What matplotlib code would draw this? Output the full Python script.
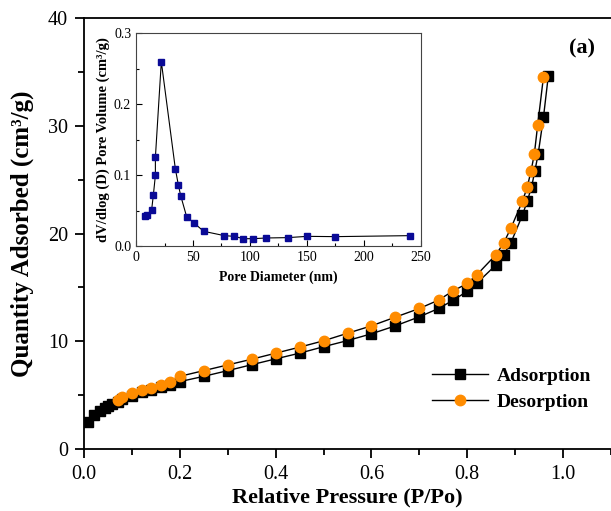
import matplotlib
matplotlib.use('Agg')
import matplotlib.pyplot as plt
from matplotlib.ticker import MultipleLocator

plt.rcParams['font.family'] = ['Liberation Serif', 'DejaVu Serif']

# N2 isotherm, relative pressure vs quantity adsorbed (cm3/g)
p_ads = [0.008, 0.021, 0.033, 0.044, 0.051, 0.058, 0.07, 0.08, 0.10, 0.12,
         0.14, 0.16, 0.18, 0.20, 0.25, 0.30, 0.35, 0.40, 0.45, 0.50,
         0.55, 0.60, 0.65, 0.70, 0.74, 0.77, 0.80, 0.82, 0.86, 0.876,
         0.891, 0.915, 0.925, 0.934, 0.941, 0.948, 0.959, 0.969]
q_ads = [2.54, 3.16, 3.56, 3.84, 4.03, 4.19, 4.40, 4.62, 4.95, 5.25,
         5.48, 5.72, 5.92, 6.26, 6.75, 7.28, 7.83, 8.37, 8.90, 9.50,
         10.07, 10.70, 11.44, 12.28, 13.05, 13.80, 14.65, 15.40, 17.10, 18.05,
         19.15, 21.70, 23.00, 24.30, 25.80, 27.40, 30.80, 34.60]

p_des = [0.07, 0.08, 0.10, 0.12, 0.14, 0.16, 0.18, 0.20, 0.25, 0.30,
         0.35, 0.40, 0.45, 0.50, 0.55, 0.60, 0.65, 0.70, 0.74, 0.77,
         0.80, 0.82, 0.86, 0.876, 0.891, 0.915, 0.925, 0.933, 0.94, 0.947,
         0.959]
q_des = [4.56, 4.87, 5.18, 5.49, 5.70, 5.95, 6.20, 6.75, 7.28, 7.81,
         8.34, 8.90, 9.46, 10.05, 10.75, 11.44, 12.25, 13.05, 13.83, 14.67,
         15.38, 16.18, 18.05, 19.15, 20.50, 23.00, 24.30, 25.80, 27.40, 30.10,
         34.55]

# BJH pore size distribution
pore_d = [7.9, 9.9, 13.7, 15.2, 17.0, 17.0, 22.2, 34.5, 37.1, 39.2,
          44.4, 51.2, 59.4, 77.5, 86.3, 94.2, 102.9, 114.0, 133.0, 150.3,
          174.6, 240.6]
pore_v = [0.042, 0.044, 0.051, 0.0715, 0.0997, 0.125, 0.260, 0.109, 0.0865, 0.071,
          0.0414, 0.032, 0.0207, 0.0146, 0.0136, 0.0103, 0.0103, 0.0113, 0.0118, 0.0136,
          0.0132, 0.0146]

fig = plt.figure(figsize=(6.11, 5.11), dpi=100)
ax = fig.add_axes([0.1375, 0.1213, 0.8625, 0.8429])

ax.plot(p_ads, q_ads, color='black', lw=1, marker='s', ms=6.5,
        mfc='black', mec='black', label='Adsorption')
ax.plot(p_des, q_des, color='black', lw=1, marker='o', ms=7.5,
        mfc='#ff8c00', mec='#ff8c00', label='Desorption')

ax.set_xlim(0, 1.1)
ax.set_ylim(0, 40)
ax.xaxis.set_major_locator(MultipleLocator(0.2))
ax.xaxis.set_minor_locator(MultipleLocator(0.1))
ax.yaxis.set_major_locator(MultipleLocator(10))
ax.yaxis.set_minor_locator(MultipleLocator(5))
ax.tick_params(which='major', direction='out', length=6.5, width=1.3,
               labelsize=14.5, pad=5)
ax.tick_params(which='minor', direction='out', length=4, width=1.3)
ax.spines['right'].set_visible(False)
for s in ['left', 'bottom', 'top']:
    ax.spines[s].set_linewidth(1.3)
ax.set_xlabel('Relative Pressure (P/Po)', fontsize=16, fontweight='bold')
ax.set_ylabel('Quantity Adsorbed (cm³/g)', fontsize=18, fontweight='bold')
ax.xaxis.set_label_coords(0.5, -0.09)
ax.yaxis.set_label_coords(-0.095, 0.5)

ax.legend(loc='upper left', bbox_to_anchor=(0.66, 0.19), frameon=False,
          prop={'size': 14, 'weight': 'bold'}, handlelength=2.9,
          handletextpad=0.45, labelspacing=0.45, borderpad=0, borderaxespad=0)
ax.text(0.97, 0.929, '(a)', transform=ax.transAxes, ha='right', va='center',
        fontsize=16, fontweight='bold')

# inset: pore size distribution
ins = fig.add_axes([0.2226, 0.5186, 0.4664, 0.4162])
ins.plot(pore_d, pore_v, color='black', lw=0.8, marker='s', ms=5,
         mfc='#0a0a96', mec='#0a0a96')
ins.set_xlim(0, 250)
ins.set_ylim(0, 0.3)
ins.xaxis.set_major_locator(MultipleLocator(50))
ins.xaxis.set_minor_locator(MultipleLocator(25))
ins.yaxis.set_major_locator(MultipleLocator(0.1))
ins.yaxis.set_minor_locator(MultipleLocator(0.05))
ins.tick_params(which='major', direction='in', length=4, width=0.8, labelsize=10)
ins.tick_params(which='minor', direction='in', length=2.5, width=0.8)
for s in ins.spines.values():
    s.set_linewidth(0.8)
    s.set_color('#444444')
ins.set_xlabel('Pore Diameter (nm)', fontsize=10, fontweight='bold', labelpad=5)
ins.set_ylabel('dV/dlog (D) Pore Volume (cm³/g)', fontsize=10.5, fontweight='bold',
               labelpad=3)

fig.savefig('out.png', dpi=100)
